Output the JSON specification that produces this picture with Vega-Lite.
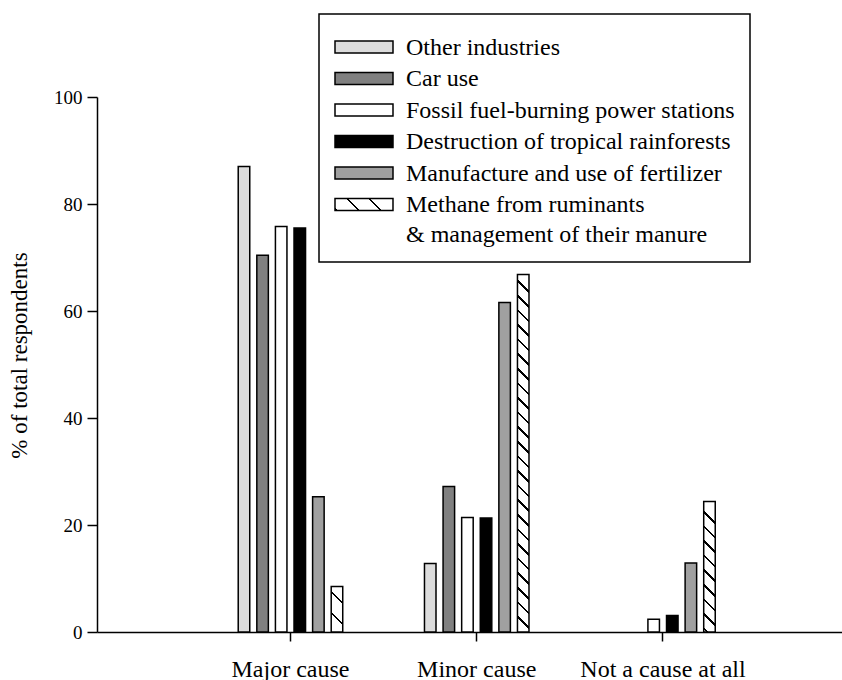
{
  "$schema": "https://vega.github.io/schema/vega-lite/v6.json",
  "width": 745,
  "height": 535,
  "autosize": {"type": "none"},
  "padding": {"left": 97, "top": 97, "right": 0, "bottom": 48},
  "background": "white",
  "config": {
    "view": {"stroke": null},
    "font": "Liberation Serif, Times New Roman, Times, serif",
    "legend": {"strokeWidth": 1.5}
  },
  "data": {
    "values": [
      {"response": "Major cause", "cause": "Other industries", "percent": 87.0},
      {"response": "Major cause", "cause": "Car use", "percent": 70.4},
      {"response": "Major cause", "cause": "Fossil fuel-burning power stations", "percent": 75.8},
      {"response": "Major cause", "cause": "Destruction of tropical rainforests", "percent": 75.5},
      {"response": "Major cause", "cause": "Manufacture and use of fertilizer", "percent": 25.3},
      {"response": "Major cause", "cause": "Methane from ruminants & management of their manure", "percent": 8.5},
      {"response": "Minor cause", "cause": "Other industries", "percent": 12.8},
      {"response": "Minor cause", "cause": "Car use", "percent": 27.2},
      {"response": "Minor cause", "cause": "Fossil fuel-burning power stations", "percent": 21.4},
      {"response": "Minor cause", "cause": "Destruction of tropical rainforests", "percent": 21.3},
      {"response": "Minor cause", "cause": "Manufacture and use of fertilizer", "percent": 61.6},
      {"response": "Minor cause", "cause": "Methane from ruminants & management of their manure", "percent": 66.8},
      {"response": "Not a cause at all", "cause": "Other industries", "percent": 0},
      {"response": "Not a cause at all", "cause": "Car use", "percent": 0},
      {"response": "Not a cause at all", "cause": "Fossil fuel-burning power stations", "percent": 2.4},
      {"response": "Not a cause at all", "cause": "Destruction of tropical rainforests", "percent": 3.1},
      {"response": "Not a cause at all", "cause": "Manufacture and use of fertilizer", "percent": 12.9},
      {"response": "Not a cause at all", "cause": "Methane from ruminants & management of their manure", "percent": 24.4}
    ]
  },
  "mark": {"type": "bar", "stroke": "black", "strokeWidth": 1.5},
  "encoding": {
    "x": {
      "field": "response",
      "type": "nominal",
      "sort": ["Major cause", "Minor cause", "Not a cause at all"],
      "scale": {"paddingInner": 0.339, "paddingOuter": 0.6695, "align": 0.529},
      "axis": {
        "title": null,
        "labelAngle": 0,
        "labelFont": "Liberation Serif, Times New Roman, Times, serif",
        "labelFontSize": 24,
        "labelColor": "black",
        "labelPadding": 16,
        "labelLimit": 300,
        "tickColor": "black",
        "tickSize": 9,
        "tickWidth": 1.5,
        "domainColor": "black",
        "domainWidth": 1.5,
        "grid": false
      }
    },
    "xOffset": {
      "field": "cause",
      "type": "nominal",
      "sort": ["Other industries", "Car use", "Fossil fuel-burning power stations", "Destruction of tropical rainforests", "Manufacture and use of fertilizer", "Methane from ruminants & management of their manure"],
      "scale": {"paddingInner": 0.38, "paddingOuter": 0.5}
    },
    "y": {
      "field": "percent",
      "type": "quantitative",
      "scale": {"domain": [0, 100]},
      "axis": {
        "title": "% of total respondents",
        "values": [0, 20, 40, 60, 80, 100],
        "grid": false,
        "tickColor": "black",
        "tickSize": 10,
        "tickWidth": 1.5,
        "domainColor": "black",
        "domainWidth": 1.5,
        "labelFont": "Liberation Serif, Times New Roman, Times, serif",
        "labelFontSize": 19,
        "labelColor": "black",
        "labelPadding": 5,
        "titleFont": "Liberation Serif, Times New Roman, Times, serif",
        "titleFontSize": 23,
        "titleFontWeight": "normal",
        "titleColor": "black",
        "titlePadding": 22,
        "titleY": 258
      }
    },
    "strokeOpacity": {"condition": {"test": "datum.percent === 0", "value": 0}, "value": 1},
    "fill": {
      "field": "cause",
      "type": "nominal",
      "scale": {
        "domain": ["Other industries", "Car use", "Fossil fuel-burning power stations", "Destruction of tropical rainforests", "Manufacture and use of fertilizer", "Methane from ruminants & management of their manure"],
        "range": [
          "#dcdcdc",
          "#808080",
          "#ffffff",
          "#000000",
          "#a0a0a0",
          {"expr": "{gradient:'linear',x1:1,y1:0,x2:-0.1574,y2:0.2394,stops:[{offset:0,color:'#fff'},{offset:0.3243,color:'#fff'},{offset:0.3243,color:'#000'},{offset:0.3615,color:'#000'},{offset:0.3615,color:'#fff'},{offset:0.6385,color:'#fff'},{offset:0.6385,color:'#000'},{offset:0.6757,color:'#000'},{offset:0.6757,color:'#fff'},{offset:0.9528,color:'#fff'},{offset:0.9528,color:'#000'},{offset:1,color:'#000'}]}"}
        ]
      },
      "condition": [
        {
          "test": "datum.cause === 'Methane from ruminants & management of their manure' && datum.response === 'Major cause'",
          "value": {"gradient": "linear", "x1": 1, "y1": 0, "x2": 0.7017, "y2": 1.1778, "stops": [
            {"offset": 0, "color": "#fff"},
            {"offset": 0.267, "color": "#fff"}, {"offset": 0.267, "color": "#000"}, {"offset": 0.3126, "color": "#000"}, {"offset": 0.3126, "color": "#fff"},
            {"offset": 0.6355, "color": "#fff"}, {"offset": 0.6355, "color": "#000"}, {"offset": 0.6811, "color": "#000"}, {"offset": 0.6811, "color": "#fff"},
            {"offset": 1, "color": "#fff"}
          ]}
        },
        {
          "test": "datum.cause === 'Methane from ruminants & management of their manure' && datum.response === 'Minor cause'",
          "value": {"gradient": "linear", "x1": 1, "y1": 0, "x2": 0.9668, "y2": 1.0312, "stops": [
            {"offset": 0, "color": "#fff"},
            {"offset": 0.0440, "color": "#fff"}, {"offset": 0.0440, "color": "#000"}, {"offset": 0.0510, "color": "#000"}, {"offset": 0.0510, "color": "#fff"},
            {"offset": 0.0836, "color": "#fff"}, {"offset": 0.0836, "color": "#000"}, {"offset": 0.0906, "color": "#000"}, {"offset": 0.0906, "color": "#fff"},
            {"offset": 0.1232, "color": "#fff"}, {"offset": 0.1232, "color": "#000"}, {"offset": 0.1302, "color": "#000"}, {"offset": 0.1302, "color": "#fff"},
            {"offset": 0.1627, "color": "#fff"}, {"offset": 0.1627, "color": "#000"}, {"offset": 0.1697, "color": "#000"}, {"offset": 0.1697, "color": "#fff"},
            {"offset": 0.2023, "color": "#fff"}, {"offset": 0.2023, "color": "#000"}, {"offset": 0.2093, "color": "#000"}, {"offset": 0.2093, "color": "#fff"},
            {"offset": 0.2419, "color": "#fff"}, {"offset": 0.2419, "color": "#000"}, {"offset": 0.2489, "color": "#000"}, {"offset": 0.2489, "color": "#fff"},
            {"offset": 0.2815, "color": "#fff"}, {"offset": 0.2815, "color": "#000"}, {"offset": 0.2885, "color": "#000"}, {"offset": 0.2885, "color": "#fff"},
            {"offset": 0.3210, "color": "#fff"}, {"offset": 0.3210, "color": "#000"}, {"offset": 0.3280, "color": "#000"}, {"offset": 0.3280, "color": "#fff"},
            {"offset": 0.3606, "color": "#fff"}, {"offset": 0.3606, "color": "#000"}, {"offset": 0.3676, "color": "#000"}, {"offset": 0.3676, "color": "#fff"},
            {"offset": 0.4002, "color": "#fff"}, {"offset": 0.4002, "color": "#000"}, {"offset": 0.4072, "color": "#000"}, {"offset": 0.4072, "color": "#fff"},
            {"offset": 0.4398, "color": "#fff"}, {"offset": 0.4398, "color": "#000"}, {"offset": 0.4468, "color": "#000"}, {"offset": 0.4468, "color": "#fff"},
            {"offset": 0.4793, "color": "#fff"}, {"offset": 0.4793, "color": "#000"}, {"offset": 0.4863, "color": "#000"}, {"offset": 0.4863, "color": "#fff"},
            {"offset": 0.5189, "color": "#fff"}, {"offset": 0.5189, "color": "#000"}, {"offset": 0.5259, "color": "#000"}, {"offset": 0.5259, "color": "#fff"},
            {"offset": 0.5585, "color": "#fff"}, {"offset": 0.5585, "color": "#000"}, {"offset": 0.5655, "color": "#000"}, {"offset": 0.5655, "color": "#fff"},
            {"offset": 0.5981, "color": "#fff"}, {"offset": 0.5981, "color": "#000"}, {"offset": 0.6051, "color": "#000"}, {"offset": 0.6051, "color": "#fff"},
            {"offset": 0.6377, "color": "#fff"}, {"offset": 0.6377, "color": "#000"}, {"offset": 0.6447, "color": "#000"}, {"offset": 0.6447, "color": "#fff"},
            {"offset": 0.6772, "color": "#fff"}, {"offset": 0.6772, "color": "#000"}, {"offset": 0.6842, "color": "#000"}, {"offset": 0.6842, "color": "#fff"},
            {"offset": 0.7168, "color": "#fff"}, {"offset": 0.7168, "color": "#000"}, {"offset": 0.7238, "color": "#000"}, {"offset": 0.7238, "color": "#fff"},
            {"offset": 0.7564, "color": "#fff"}, {"offset": 0.7564, "color": "#000"}, {"offset": 0.7634, "color": "#000"}, {"offset": 0.7634, "color": "#fff"},
            {"offset": 0.7960, "color": "#fff"}, {"offset": 0.7960, "color": "#000"}, {"offset": 0.8030, "color": "#000"}, {"offset": 0.8030, "color": "#fff"},
            {"offset": 0.8355, "color": "#fff"}, {"offset": 0.8355, "color": "#000"}, {"offset": 0.8425, "color": "#000"}, {"offset": 0.8425, "color": "#fff"},
            {"offset": 0.8751, "color": "#fff"}, {"offset": 0.8751, "color": "#000"}, {"offset": 0.8821, "color": "#000"}, {"offset": 0.8821, "color": "#fff"},
            {"offset": 0.9147, "color": "#fff"}, {"offset": 0.9147, "color": "#000"}, {"offset": 0.9217, "color": "#000"}, {"offset": 0.9217, "color": "#fff"},
            {"offset": 0.9543, "color": "#fff"}, {"offset": 0.9543, "color": "#000"}, {"offset": 0.9613, "color": "#000"}, {"offset": 0.9613, "color": "#fff"},
            {"offset": 1, "color": "#fff"}
          ]}
        },
        {
          "test": "datum.cause === 'Methane from ruminants & management of their manure' && datum.response === 'Not a cause at all'",
          "value": {"gradient": "linear", "x1": 1, "y1": 0, "x2": 0.9047, "y2": 1.0798, "stops": [
            {"offset": 0, "color": "#fff"},
            {"offset": 0.1423, "color": "#fff"}, {"offset": 0.1423, "color": "#000"}, {"offset": 0.1607, "color": "#000"}, {"offset": 0.1607, "color": "#fff"},
            {"offset": 0.2451, "color": "#fff"}, {"offset": 0.2451, "color": "#000"}, {"offset": 0.2635, "color": "#000"}, {"offset": 0.2635, "color": "#fff"},
            {"offset": 0.3478, "color": "#fff"}, {"offset": 0.3478, "color": "#000"}, {"offset": 0.3662, "color": "#000"}, {"offset": 0.3662, "color": "#fff"},
            {"offset": 0.4506, "color": "#fff"}, {"offset": 0.4506, "color": "#000"}, {"offset": 0.4690, "color": "#000"}, {"offset": 0.4690, "color": "#fff"},
            {"offset": 0.5534, "color": "#fff"}, {"offset": 0.5534, "color": "#000"}, {"offset": 0.5718, "color": "#000"}, {"offset": 0.5718, "color": "#fff"},
            {"offset": 0.6562, "color": "#fff"}, {"offset": 0.6562, "color": "#000"}, {"offset": 0.6746, "color": "#000"}, {"offset": 0.6746, "color": "#fff"},
            {"offset": 0.7589, "color": "#fff"}, {"offset": 0.7589, "color": "#000"}, {"offset": 0.7773, "color": "#000"}, {"offset": 0.7773, "color": "#fff"},
            {"offset": 0.8617, "color": "#fff"}, {"offset": 0.8617, "color": "#000"}, {"offset": 0.8801, "color": "#000"}, {"offset": 0.8801, "color": "#fff"},
            {"offset": 0.9645, "color": "#fff"}, {"offset": 0.9645, "color": "#000"}, {"offset": 0.9829, "color": "#000"}, {"offset": 0.9829, "color": "#fff"},
            {"offset": 1, "color": "#fff"}
          ]}
        }
      ],
      "legend": {
        "title": " ",
        "titleFontSize": 1,
        "titlePadding": 5,
        "orient": "none",
        "legendX": 222,
        "legendY": -83,
        "padding": 15,
        "strokeColor": "black",
        "symbolType": "M-1.833,-1H7.833V1H-1.833Z",
        "symbolSize": 144,
        "symbolStrokeColor": "black",
        "symbolStrokeWidth": 1.5,
        "labelFont": "Liberation Serif, Times New Roman, Times, serif",
        "labelFontSize": 24,
        "labelColor": "black",
        "labelOffset": 48,
        "labelLimit": 600,
        "labelBaseline": "alphabetic",
        "rowPadding": 6.5,
        "labelExpr": "datum.label == 'Methane from ruminants & management of their manure' ? ['Methane from ruminants', '& management of their manure'] : datum.label",
        "encode": {
          "labels": {"update": {"dy": {"value": 7.5}, "lineHeight": {"value": 30}}}
        }
      }
    }
  }
}
